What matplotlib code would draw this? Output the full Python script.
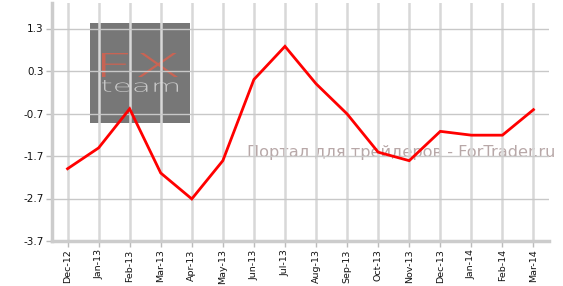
import matplotlib
matplotlib.use("Agg")
import matplotlib.pyplot as plt
from matplotlib.patches import Rectangle, PathPatch
from matplotlib.textpath import TextPath
from matplotlib.font_manager import FontProperties
from matplotlib.transforms import Affine2D

months = ["Dec-12", "Jan-13", "Feb-13", "Mar-13", "Apr-13", "May-13", "Jun-13", "Jul-13",
          "Aug-13", "Sep-13", "Oct-13", "Nov-13", "Dec-13", "Jan-14", "Feb-14", "Mar-14"]
values = [-2.0, -1.51, -0.59, -2.1, -2.71, -1.81, 0.1, 0.88,
          0.0, -0.71, -1.61, -1.81, -1.12, -1.21, -1.21, -0.61]
yticks = [-3.7, -2.7, -1.7, -0.7, 0.3, 1.3]

W, H = 563, 286
fig = plt.figure(figsize=(W / 100, H / 100), dpi=100)
ax = fig.add_axes([52 / W, 1 - 241 / H, (549 - 52) / W, (241 - 3) / H])
ax.set_facecolor("none")

x = list(range(len(months)))
ax.plot(x, values, color="#ff0000", lw=2, zorder=5, solid_joinstyle="miter")

ax.set_xlim(-0.5, len(months) - 0.5)
ax.set_ylim(-3.7, 1.9)
ax.set_yticks(yticks)
ax.set_yticklabels([f"{v:.1f}" for v in yticks], fontsize=7.5, color="#111111")
ax.set_xticks(x)
ax.set_xticklabels(months, rotation=90, fontsize=6.8, color="#111111")

for xi in x:
    ax.axvline(xi, color="#d8d8d8", lw=1.8, zorder=1)
for yv in yticks:
    ax.axhline(yv, color="#c8c8c8", lw=1, zorder=1)

for s in ["top", "right"]:
    ax.spines[s].set_visible(False)
for s in ["left", "bottom"]:
    ax.spines[s].set_color("#cccccc")
    ax.spines[s].set_linewidth(2.5)
ax.tick_params(axis="both", color="#bbbbbb", length=4, width=1, pad=2)

# logo block (pixel coordinates from top-left), drawn beneath the axes
logo = Rectangle((90 / W, 1 - 123 / H), 100 / W, 100 / H, transform=fig.transFigure,
                 facecolor="#777777", edgecolor="none", zorder=-2)
fig.add_artist(logo)


def stretched_text(s, x0, y0, x1, y1, color, weight="normal"):
    tp = TextPath((0, 0), s, size=10, prop=FontProperties(family="DejaVu Sans", weight=weight))
    bb = tp.get_extents()
    sx = (x1 - x0) / bb.width
    sy = (y1 - y0) / bb.height
    tr = Affine2D().translate(-bb.x0, -bb.y0).scale(sx, sy).translate(x0, H - y1)
    path = tr.transform_path(tp)
    fig.add_artist(PathPatch(path, facecolor=color, edgecolor="none",
                             transform=None, zorder=-1))


stretched_text("FX", 102, 53, 178, 77, "#c86454", weight="light")
stretched_text("team", 102, 80, 178, 92, "#c8c8c8", weight="light")

fig.text(401 / W, 1 - 153 / H, "Портал для трейдеров - ForTrader.ru", ha="center", va="center",
         fontsize=11.6, color="#b8a8a8", zorder=-0.5)

fig.savefig("out.png", dpi=100)
